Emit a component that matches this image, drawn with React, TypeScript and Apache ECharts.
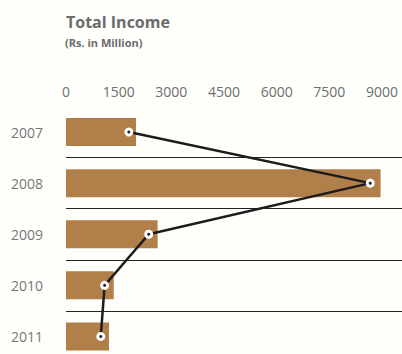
import React, { useEffect, useRef } from "react";
import * as echarts from "echarts";

const years = ["2007", "2008", "2009", "2010", "2011"];
const barValues = [1995, 8960, 2610, 1360, 1225];
const lineValues = [1790, 8665, 2355, 1100, 990];
const titleText = "Total Income";
const subtitleText = "(Rs. in Million)";

export default function App() {
  const ref = useRef<HTMLDivElement>(null);
  useEffect(() => {
    if (!ref.current) return;
    const chart = echarts.init(ref.current, null, { renderer: "svg" });
    const font = "'Open Sans', 'Noto Sans', sans-serif";
    chart.setOption({
      animation: false,
      backgroundColor: "#fefefb",
      textStyle: { fontFamily: font },
      title: [
        {
          text: titleText,
          left: 66,
          top: 14,
          padding: 0,
          textStyle: { fontFamily: font, fontSize: 16, fontWeight: "bold", color: "#6b6b6b" },
        },
        {
          text: subtitleText,
          left: 65,
          top: 37,
          padding: 0,
          textStyle: { fontFamily: font, fontSize: 11, fontWeight: "bold", color: "#6b6b6b" },
        },
      ],
      grid: { left: 66, right: 0, top: 106.5, bottom: 0, containLabel: false },
      xAxis: {
        type: "value",
        position: "top",
        min: 0,
        max: 9570,
        interval: 1500,
        axisLine: { show: false },
        axisTick: { show: false },
        splitLine: { show: false },
        axisLabel: {
          showMaxLabel: false,
          margin: 8,
          fontSize: 14,
          color: "#6e6e6e",
          fontFamily: font,
          formatter: (v: number) => String(v),
        },
      },
      yAxis: {
        type: "category",
        data: years,
        inverse: true,
        axisLine: { show: false },
        axisTick: { show: false },
        axisLabel: { margin: 23, fontSize: 14, color: "#777777", fontFamily: font },
        splitLine: {
          show: true,
          showMinLine: false,
          lineStyle: { color: "#222222", width: 1 },
        },
      },
      series: [
        {
          type: "bar",
          data: barValues,
          barWidth: 28,
          itemStyle: { color: "#b07f4a" },
          silent: true,
        },
        {
          type: "line",
          data: lineValues,
          symbol: "circle",
          symbolSize: 6,
          lineStyle: { color: "#1c1c1c", width: 2.5 },
          itemStyle: { color: "#1c1c1c", borderColor: "#ffffff", borderWidth: 3 },
          z: 5,
        },
      ],
    });
    return () => chart.dispose();
  }, []);
  return (
    <div
      ref={ref}
      style={{ position: "fixed", left: 0, top: 0, width: 402, height: 362 }}
    />
  );
}
